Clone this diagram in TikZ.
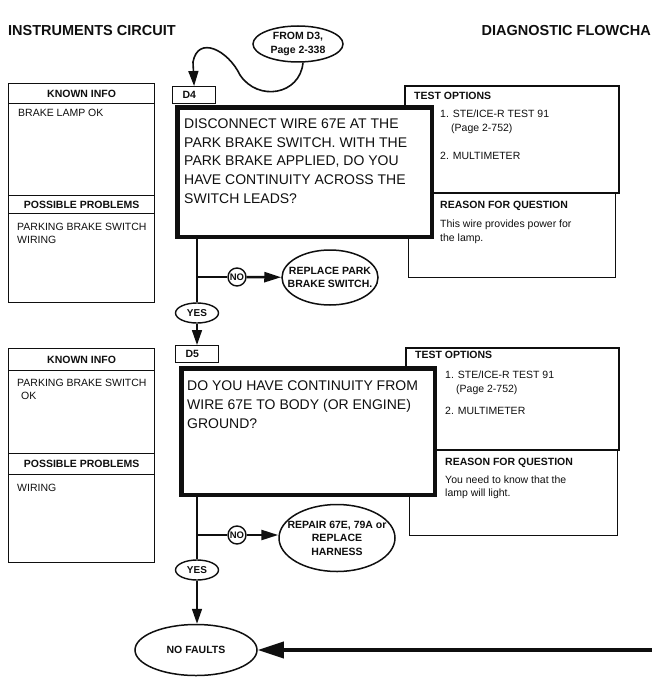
\documentclass[tikz,border=0pt]{standalone}
\usepackage{fontspec}
\setmainfont{Liberation Sans}
\usetikzlibrary{arrows.meta,positioning,shapes.geometric}
\definecolor{dgink}{RGB}{15,15,15}
\newcommand{\dgsmall}{\fontsize{10.5}{13.5}\selectfont}
\newcommand{\dgbig}{\fontsize{14}{18.7}\selectfont}
\tikzset{
  dgbox/.style={draw=dgink, line width=1.2pt, anchor=north west, inner sep=0pt},
  dgshadow/.style={draw=dgink, line width=2.2pt, anchor=north west, inner sep=0pt},
  dghead/.style={draw=dgink, line width=1.2pt, anchor=north west, inner sep=0pt, minimum width=146pt, font=\dgsmall\bfseries},
  dgask/.style={draw=dgink, line width=4.5pt, fill=white, anchor=north west, inner sep=0pt},
  dgtag/.style={draw=dgink, line width=1.2pt, fill=white, anchor=north west, inner xsep=10pt, inner ysep=0pt, text width=23pt, align=left, minimum height=17pt, font=\dgsmall\bfseries},
  dgtext/.style={anchor=north west, inner sep=0pt, align=left},
  dglabel/.style={anchor=west, inner sep=0pt, font=\dgsmall\bfseries},
  dgtitle/.style={inner sep=0pt, font=\fontsize{14.5}{18}\selectfont\bfseries},
  dgoval/.style={draw=dgink, ellipse, line width=1.5pt, fill=white, inner sep=0pt, align=center, font=\dgsmall\bfseries},
  dgyes/.style={draw=dgink, ellipse, line width=1.4pt, fill=white, inner sep=0pt, minimum width=43pt, minimum height=20pt, font=\fontsize{10}{11}\selectfont\bfseries},
  dgno/.style={draw=dgink, circle, line width=1.4pt, fill=white, inner sep=0pt, minimum size=18pt, font=\fontsize{9.5}{10}\selectfont\bfseries},
  dgline/.style={line width=1.6pt, draw=dgink},
  dgarr/.style={-{Triangle[length=15pt,width=10pt]}, line width=1.6pt, draw=dgink},
  dgnoarr/.style={-{Triangle[length=17pt,width=10pt]}, line width=2.5pt, draw=dgink},
  dgbigarr/.style={-{Triangle[length=26pt,width=16pt]}, line width=3.5pt, draw=dgink}
}

\begin{document}
\begin{tikzpicture}[x=1pt, y=-1pt, font=\dgsmall, text=dgink]
  \useasboundingbox (0,0) rectangle (652,687);
  \node[dgtitle, anchor=west] (circ) at (8,31) {INSTRUMENTS CIRCUIT};
  \node[dgtitle, anchor=east] (chart) at (651,31) {DIAGNOSTIC FLOWCHA};
  \node[dgoval, minimum width=90pt, minimum height=36pt] (from) at (298,44) {FROM D3,\\Page 2-338};

  % step D4
  \node[dgbox, minimum width=146pt, minimum height=219pt] (known1) at (8,83) {};
  \node[dghead, minimum height=20pt] (known1h) at (8,83) {KNOWN INFO};
  \node[dghead, minimum height=18pt] (prob1h) at (8,195) {POSSIBLE PROBLEMS};
  \node[dgtext] (known1t) at (18,109.2) {BRAKE LAMP OK};
  \node[dgtext, font=\fontsize{10.5}{13}\selectfont] (prob1t) at (17,223.2) {PARKING BRAKE SWITCH\\WIRING};

  \node[dgbox, minimum width=207pt, minimum height=85pt] (why1) at (408,192) {};
  \node[dgshadow, minimum width=214pt, minimum height=107pt] (test1) at (404,85) {};
  \node[dglabel] (test1h) at (414,96) {TEST OPTIONS};
  \node[dgtext, font=\fontsize{10.5}{14}\selectfont] (test1a) at (440,110) {1. STE/ICE-R TEST 91\\\hspace{11pt}(Page 2-752)};
  \node[dgtext] (test1b) at (440,152.2) {2. MULTIMETER};
  \node[dglabel] (why1h) at (440,206) {REASON FOR QUESTION};
  \node[dgtext, font=\fontsize{10.5}{14}\selectfont] (why1t) at (440,219.2) {This wire provides power for\\the lamp.};

  \node[dgtag] (d4) at (172,86) {D4};
  \node[dgask, minimum width=254.5pt, minimum height=129.5pt] (q1) at (175.25,105.25) {};
  \node[dgtext, font=\dgbig] (q1t) at (184,118.5) {DISCONNECT WIRE 67E AT THE\\PARK BRAKE SWITCH. WITH THE\\PARK BRAKE APPLIED, DO YOU\\HAVE CONTINUITY ACROSS THE\\SWITCH LEADS?};

  \node[dgno] (no1) at (237,277) {NO};
  \node[dgoval, minimum width=96pt, minimum height=55pt] (fix1) at (330,277.5) {};
  \node[align=center, font=\dgsmall\bfseries] (fix1t) at (fix1) {REPLACE PARK\\BRAKE SWITCH.};
  \node[dgyes] (yes1) at (197,313) {YES};

  % step D5
  \node[dgbox, minimum width=146pt, minimum height=214pt] (known2) at (8,348) {};
  \node[dghead, minimum height=22pt] (known2h) at (8,348) {KNOWN INFO};
  \node[dghead, minimum height=21pt] (prob2h) at (8,453) {POSSIBLE PROBLEMS};
  \node[dgtext, font=\fontsize{10.5}{13}\selectfont] (known2t) at (17,379.2) {PARKING BRAKE SWITCH\\\hspace{4pt}OK};
  \node[dgtext] (prob2t) at (17,484.2) {WIRING};

  \node[dgbox, minimum width=208pt, minimum height=86pt] (why2) at (409,449) {};
  \node[dgshadow, minimum width=213pt, minimum height=102pt] (test2) at (405,347) {};
  \node[dglabel] (test2h) at (415,355) {TEST OPTIONS};
  \node[dgtext, font=\fontsize{10.5}{13.5}\selectfont] (test2a) at (445,371) {1. STE/ICE-R TEST 91\\\hspace{11pt}(Page 2-752)};
  \node[dgtext] (test2b) at (445,407) {2. MULTIMETER};
  \node[dglabel] (why2h) at (445,463) {REASON FOR QUESTION};
  \node[dgtext, font=\fontsize{10.5}{13}\selectfont] (why2t) at (445,475.2) {You need to know that the\\lamp will light.};

  \node[dgtag] (d5) at (175,345) {D5};
  \node[dgask, minimum width=253.5pt, minimum height=126.5pt] (q2) at (179.25,366.25) {};
  \node[dgtext, font=\dgbig] (q2t) at (187,381) {DO YOU HAVE CONTINUITY FROM\\WIRE 67E TO BODY (OR ENGINE)\\GROUND?};

  \node[dgno] (no2) at (237,535) {NO};
  \node[dgoval, minimum width=116pt, minimum height=67pt] (fix2) at (337,538) {};
  \node[align=center, font=\fontsize{10.5}{13.5}\selectfont\bfseries] (fix2t) at (fix2) {REPAIR 67E, 79A or\\REPLACE\\HARNESS};
  \node[dgyes] (yes2) at (197,570) {YES};
  \node[dgoval, minimum width=122pt, minimum height=51pt] (done) at (196,650) {NO FAULTS};
  \coordinate (feed) at (660,650);

  % connectors
  \draw[dgarr] (from.-75) .. controls (300,95) and (258,102) .. (240,75)
    .. controls (228,50) and (198,35) .. (193,62) -- (d4.north);
  \draw[dgline] (yes1 |- q1.south) -- (yes1);
  \draw[dgline] (yes1 |- no1) -- (no1);
  \draw[dgnoarr] (no1) -- (fix1);
  \draw[dgarr] (yes1) -- (yes1 |- d5.north);
  \draw[dgline] (yes2 |- q2.south) -- (yes2);
  \draw[dgline] (yes2 |- no2) -- (no2);
  \draw[dgnoarr] (no2) -- (no2 -| fix2.west);
  \draw[dgarr] (yes2) -- (yes2 |- done.north);
  \draw[dgbigarr] (feed) -- (done);
\end{tikzpicture}
\end{document}
